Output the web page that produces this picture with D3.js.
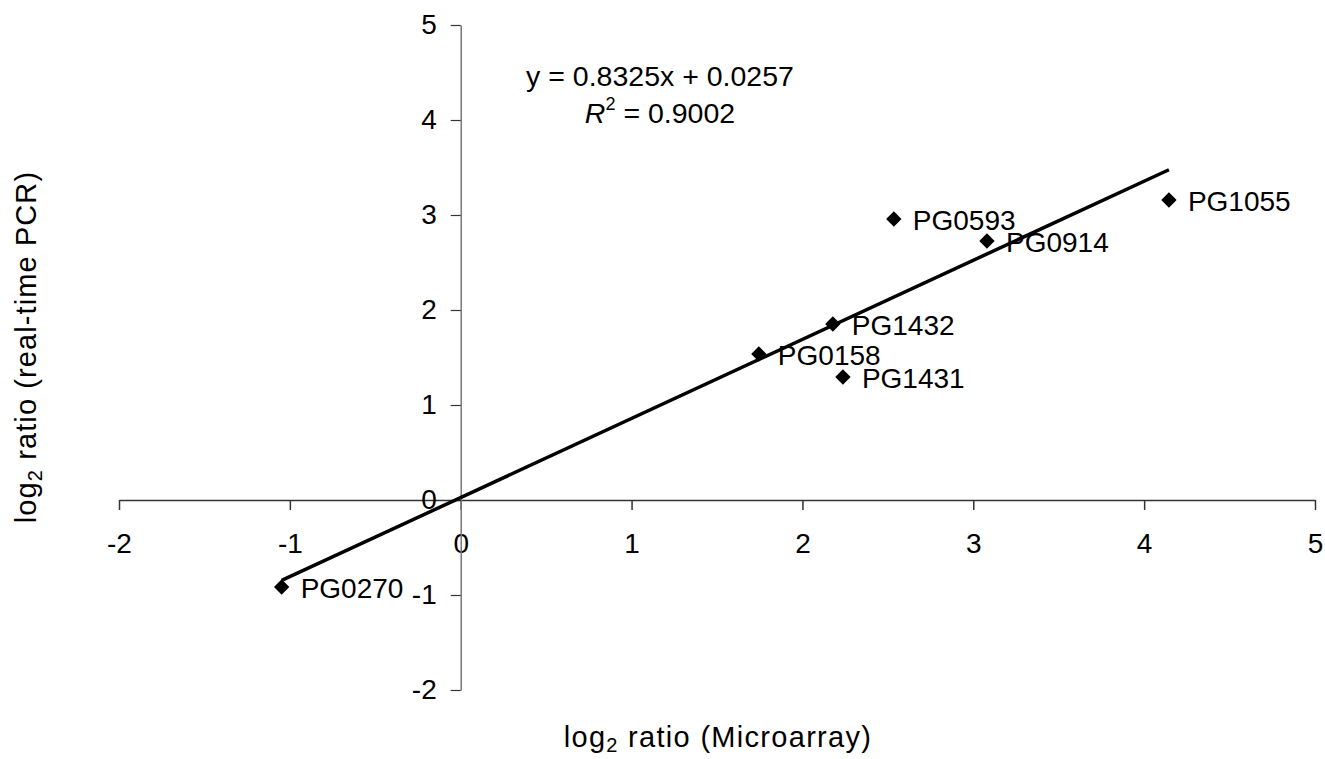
<!DOCTYPE html>
<html>
<head>
<meta charset="utf-8">
<script src="https://cdn.jsdelivr.net/npm/d3@7"></script>
<style>
  body { margin: 0; background: #fff; }
  text { font-family: "Liberation Sans", Arial, sans-serif; fill: #000; }
</style>
</head>
<body>
<div id="chart"></div>
<script>
// data
var genes = ["PG0270", "PG0158", "PG1432", "PG1431", "PG0593", "PG0914", "PG1055"];
var microarray = [-1.048, 1.745, 2.178, 2.237, 2.535, 3.08, 4.145];
var pcr = [-0.916, 1.537, 1.853, 1.295, 2.958, 2.726, 3.158];
var xTicks = [-2, -1, 0, 1, 2, 3, 4, 5];
var yTicks = [-2, -1, 0, 1, 2, 3, 4, 5];
var slope = 0.8325, intercept = 0.0257, r2 = "0.9002";

var width = 1325, height = 759;
var fs = "28px";

var x = d3.scaleLinear().domain([-2, 5]).range([119, 1315]);
var y = d3.scaleLinear().domain([-2, 5]).range([690, 25]);

var svg = d3.select("#chart").append("svg")
  .attr("width", width)
  .attr("height", height);

var fmt = function(d) { return String(d); };

// x axis sits on y = 0
var xAxis = d3.axisBottom(x).tickValues(xTicks).tickFormat(fmt).tickSize(10).tickSizeOuter(0).tickPadding(23);
var gx = svg.append("g")
  .attr("transform", "translate(0," + y(0) + ")")
  .call(xAxis);
gx.select(".domain").attr("stroke", "#333").attr("stroke-width", 1.5);
gx.selectAll(".tick line").attr("stroke", "#333").attr("stroke-width", 1.5);

// y axis sits on x = 0
var yAxis = d3.axisLeft(y).tickValues(yTicks).tickFormat(fmt).tickSize(10).tickSizeOuter(0).tickPadding(14);
var gy = svg.append("g")
  .attr("transform", "translate(" + x(0) + ",0)")
  .call(yAxis);
gy.select(".domain").attr("stroke", "#777").attr("stroke-width", 1.5);
gy.selectAll(".tick line").attr("stroke", "#333").attr("stroke-width", 1.2);

svg.selectAll(".tick text")
  .attr("font-family", null)
  .attr("fill", "#000")
  .style("font-size", fs);

// trend line
var xmin = d3.min(microarray), xmax = d3.max(microarray);
svg.append("line")
  .attr("x1", x(xmin)).attr("y1", y(slope * xmin + intercept))
  .attr("x2", x(xmax)).attr("y2", y(slope * xmax + intercept))
  .attr("stroke", "#000")
  .attr("stroke-width", 3.5);

// points
var pts = genes.map(function(g, i) { return [microarray[i], pcr[i], g]; });
var diamond = d3.symbol().type(d3.symbolDiamond2).size(150);

svg.selectAll("path.pt")
  .data(pts)
  .enter().append("path")
  .attr("class", "pt")
  .attr("d", diamond)
  .attr("transform", function(d) { return "translate(" + x(d[0]) + "," + y(d[1]) + ")"; })
  .attr("fill", "#000");

svg.selectAll("text.lbl")
  .data(pts)
  .enter().append("text")
  .attr("class", "lbl")
  .attr("x", function(d) { return x(d[0]) + 19; })
  .attr("y", function(d) { return y(d[1]) + 11; })
  .style("font-size", fs)
  .text(function(d) { return d[2]; });

// equation
svg.append("text")
  .attr("x", 660).attr("y", 86)
  .attr("text-anchor", "middle")
  .style("font-size", "28.5px")
  .text("y = " + slope + "x + " + intercept);

var r = svg.append("text")
  .attr("x", 660).attr("y", 123)
  .attr("text-anchor", "middle")
  .style("font-size", "28.5px");
r.append("tspan").style("font-style", "italic").text("R");
r.append("tspan").attr("dy", -13).style("font-size", "18px").text("2");
r.append("tspan").attr("dy", 13).text(" = " + r2);

// axis titles
var xt = svg.append("text")
  .attr("x", 718).attr("y", 747)
  .attr("text-anchor", "middle")
  .style("font-size", "29px")
  .style("letter-spacing", "1.3px");
xt.append("tspan").text("log");
xt.append("tspan").attr("dy", 5).style("font-size", "20px").text("2");
xt.append("tspan").attr("dy", -5).text(" ratio (Microarray)");

var yt = svg.append("text")
  .attr("transform", "translate(36,347) rotate(-90)")
  .attr("text-anchor", "middle")
  .style("font-size", "29px")
  .style("letter-spacing", "1.1px");
yt.append("tspan").text("log");
yt.append("tspan").attr("dy", 6).style("font-size", "20px").text("2");
yt.append("tspan").attr("dy", -6).text(" ratio (real-time PCR)");
</script>
</body>
</html>
